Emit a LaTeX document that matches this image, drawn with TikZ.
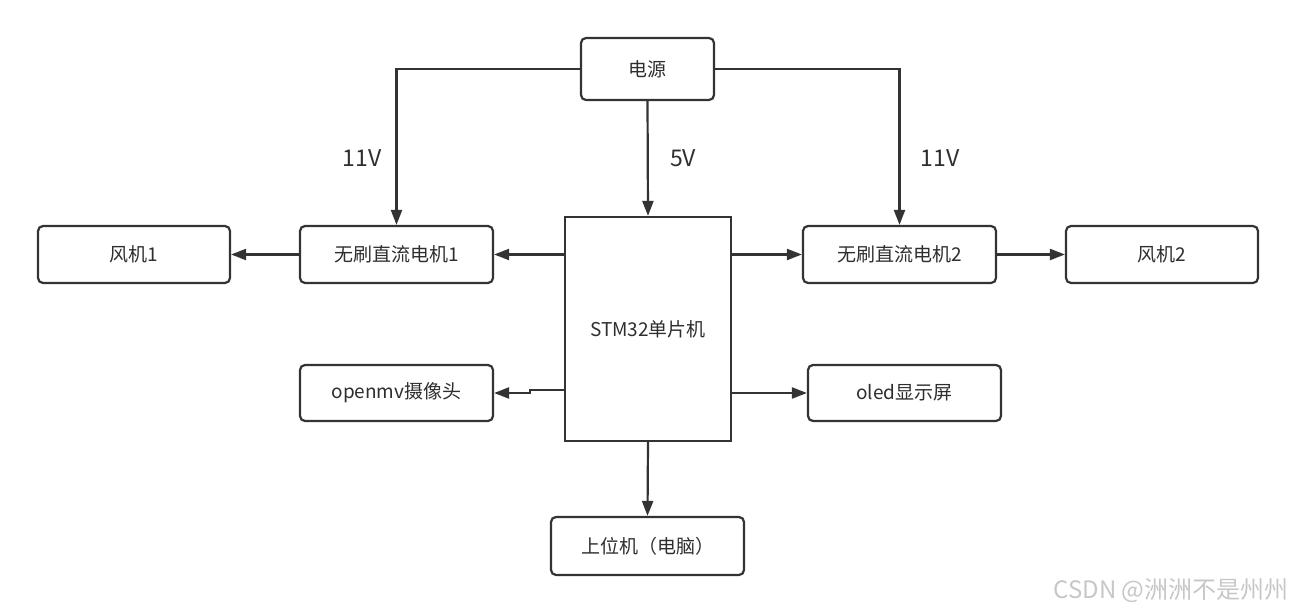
\documentclass[tikz,border=0pt]{standalone}
\usepackage{fontspec}
\setmainfont{Noto Sans CJK SC}
\usetikzlibrary{arrows.meta}
\definecolor{ln}{HTML}{333333}
\begin{document}
\begin{tikzpicture}[x=1pt,y=-1pt,
  box/.style={draw=ln,line width=2.2pt,rounded corners=5pt,fill=white,inner sep=0pt,font=\fontsize{19}{21}\selectfont,text=ln!90!black},
  sbox/.style={draw=ln,line width=2.2pt,fill=white,inner sep=0pt,font=\fontsize{19}{21}\selectfont,text=ln!90!black},
  conn/.style={draw=ln,line width=2.2pt,-{Triangle[length=15pt,width=11pt]}},
  lbl/.style={font=\fontsize{23}{25}\selectfont,text=ln!90!black}]
\useasboundingbox (0,0) rectangle (1295,612);
\node[box,minimum width=133pt,minimum height=62pt] (pw) at (647.5,69) {电源};
\node[sbox,minimum width=166pt,minimum height=224pt] (mcu) at (648,329) {STM32单片机};
\node[box,minimum width=192pt,minimum height=57pt] (f1) at (134,254.5) {风机1};
\node[box,minimum width=193pt,minimum height=57pt] (m1) at (396.5,254.5) {无刷直流电机1};
\node[box,minimum width=193pt,minimum height=57pt] (m2) at (899.5,254.5) {无刷直流电机2};
\node[box,minimum width=192pt,minimum height=57pt] (f2) at (1162,254.5) {风机2};
\node[box,minimum width=193pt,minimum height=56pt] (cam) at (396.5,393) {openmv摄像头};
\node[box,minimum width=193pt,minimum height=56pt] (oled) at (904.5,393) {oled显示屏};
\node[box,minimum width=193pt,minimum height=58pt] (pc) at (647.5,546) {上位机（电脑）};
\coordinate (j1) at (530,390);
\coordinate (j2) at (530,393);
\draw[conn] (pw.west) -| (m1.north);
\draw[conn] (pw.east) -| (m2.north);
\draw[conn] (pw.south) -- (mcu.north);
\draw[conn] (mcu.west |- m1.east) -- (m1.east);
\draw[conn] (m1.west) -- (f1.east);
\draw[conn] (mcu.east |- m2.west) -- (m2.west);
\draw[conn] (m2.east) -- (f2.west);
\draw[conn] (mcu.west |- j1) -- (j1) -- (j2) -- (cam.east);
\draw[conn] (mcu.east |- oled.west) -- (oled.west);
\draw[conn] (mcu.south) -- (pc.north);
\node[lbl] (l1) at (362,158) {11V};
\node[lbl] (l2) at (683,158) {5V};
\node[lbl] (l3) at (940,158) {11V};
\node[font=\fontsize{24}{26}\selectfont,text=black!22,anchor=east] (wm) at (1292,591) {CSDN @洲洲不是州州};
\end{tikzpicture}
\end{document}
